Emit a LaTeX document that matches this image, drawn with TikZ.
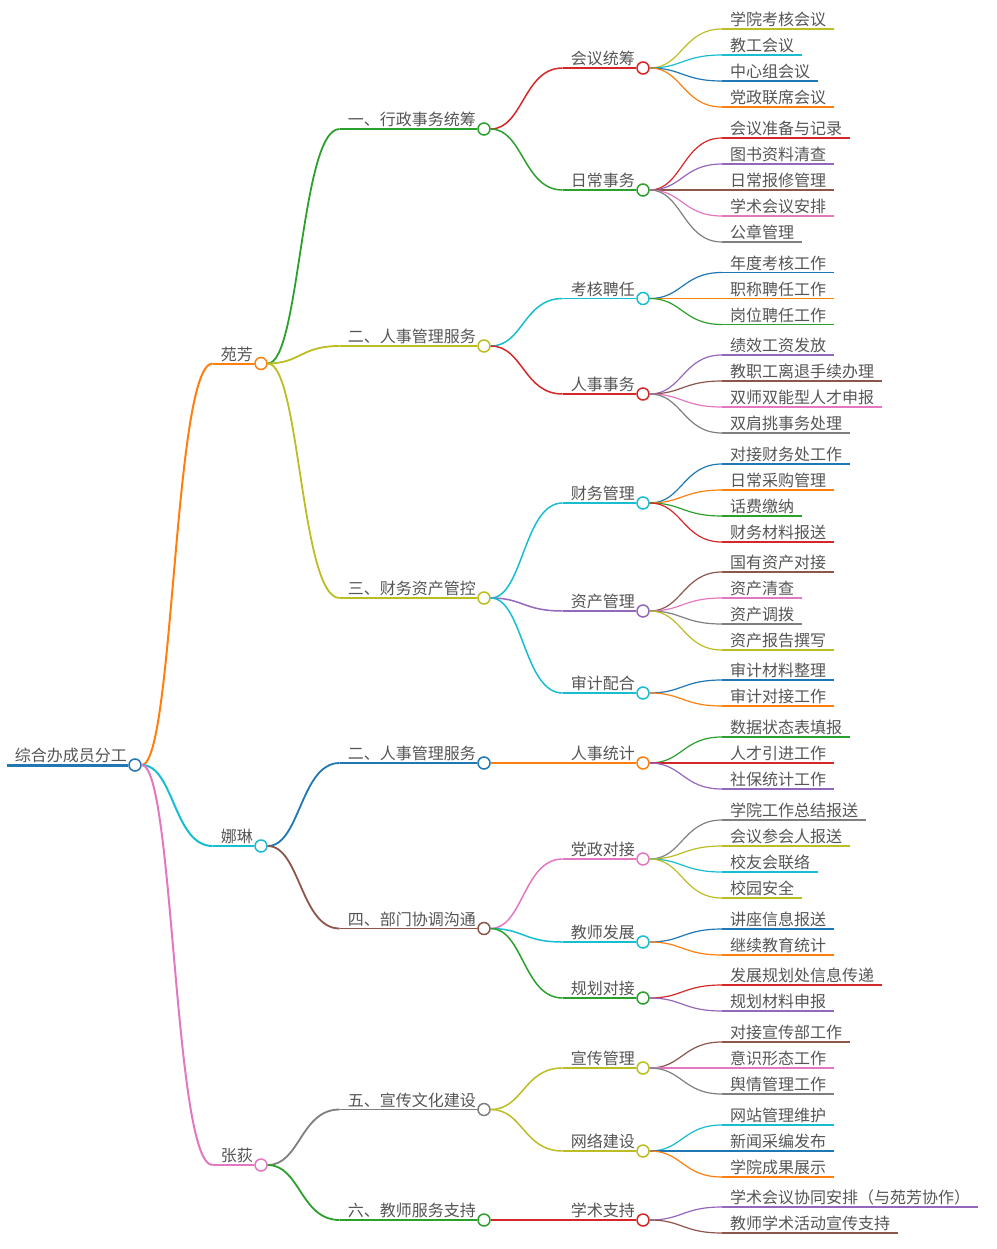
\documentclass[tikz,border=0pt]{standalone}
\usepackage{fontspec}
\setmainfont{Noto Sans CJK SC}
\usepackage{xcolor}
\usepackage{tikz}

\definecolor{cblue}{HTML}{1F77B4}
\definecolor{corange}{HTML}{FF7F0E}
\definecolor{cgreen}{HTML}{2CA02C}
\definecolor{cred}{HTML}{D62728}
\definecolor{cpurple}{HTML}{9467BD}
\definecolor{cbrown}{HTML}{8C564B}
\definecolor{cpink}{HTML}{E377C2}
\definecolor{cgray}{HTML}{7F7F7F}
\definecolor{colive}{HTML}{BCBD22}
\definecolor{ccyan}{HTML}{17BECF}
\definecolor{textgray}{HTML}{555555}

\begin{document}
\begin{tikzpicture}[
    x = 1pt, y = -1pt, % one unit per pixel, y downwards
    lbl/.style = {inner xsep=8pt, inner ysep=1pt, text height=14pt, text depth=2pt,
      text=textgray, font=\fontsize{16}{18}\selectfont},
    dot/.style = {circle, draw=#1, fill=white, line width=1.5pt,
      minimum size=12pt, inner sep=0pt},
    link/.style = {to path={.. controls +(39,0) and +(-39,0) .. (\tikztotarget)}}
  ]
  \useasboundingbox (0,0) rectangle (996,1249);

  % root
  \node[dot=cblue] (zh) at (135,765) {};
  \node[lbl, anchor=south east] (zh-t) at (zh.center) {综合办成员分工};
  \draw[cblue, line width=3pt] (zh-t.south west) -- (zh.west);

  % members
  \foreach \nm/\y/\clr/\txt in {yf/363.5/corange/苑芳, nl/846/ccyan/娜琳, zd/1165/cpink/张荻} {
    \node[dot=\clr] (\nm) at (261,\y) {};
    \node[lbl, anchor=south east] (\nm-t) at (\nm.center) {\txt};
    \draw[\clr, line width=2pt] (\nm-t.south west) -- (\nm.west);
    \path[line width=2pt] (zh) edge[link, \clr] (\nm-t.south west);
  }

  % duties
  \foreach \nm/\pa/\y/\clr/\txt in {
      yf1/yf/129/cgreen/一、行政事务统筹, yf2/yf/346/colive/二、人事管理服务,
      yf3/yf/598/colive/三、财务资产管控, nl2/nl/763/cblue/二、人事管理服务,
      nl4/nl/928.5/cbrown/四、部门协调沟通, zd5/zd/1109.5/cgray/五、宣传文化建设,
      zd6/zd/1220/cgreen/六、教师服务支持} {
    \node[dot=\clr] (\nm) at (484,\y) {};
    \node[lbl, anchor=south east] (\nm-t) at (\nm.center) {\txt};
    \draw[\clr, line width=1.8pt] (\nm-t.south west) -- (\nm.west);
    \path[line width=1.8pt] (\pa) edge[link, \clr] (\nm-t.south west);
  }

  % task groups
  \foreach \nm/\pa/\y/\clr/\txt in {
      hy/yf1/68/cred/会议统筹, rc/yf1/190/cgreen/日常事务,
      kh/yf2/298.5/ccyan/考核聘任, rs/yf2/394/cred/人事事务,
      cw/yf3/503/ccyan/财务管理, zc/yf3/611/cpurple/资产管理, sj/yf3/693/ccyan/审计配合,
      tj/nl2/763/corange/人事统计,
      dz/nl4/859/cpink/党政对接, js/nl4/942/ccyan/教师发展, gh/nl4/998/cgreen/规划对接,
      xc/zd5/1068/colive/宣传管理, wl/zd5/1151/colive/网络建设,
      xs/zd6/1220/cred/学术支持} {
    \node[dot=\clr] (\nm) at (643,\y) {};
    \node[lbl, anchor=south east] (\nm-t) at (\nm.center) {\txt};
    \draw[\clr, line width=1.5pt] (\nm-t.south west) -- (\nm.west);
    \path[line width=1.5pt] (\pa) edge[link, \clr] (\nm-t.south west);
  }

  % single tasks
  \foreach \pa/\y/\clr/\txt [count=\i] in {
      hy/29/colive/学院考核会议, hy/55/ccyan/教工会议, hy/81/cblue/中心组会议,
      hy/107/corange/党政联席会议,
      rc/138/cred/会议准备与记录, rc/164/cpurple/图书资料清查, rc/190/cbrown/日常报修管理,
      rc/216/cpink/学术会议安排, rc/242/cgray/公章管理,
      kh/272.5/cblue/年度考核工作, kh/298.5/corange/职称聘任工作, kh/324.5/cgreen/岗位聘任工作,
      rs/355/cpurple/绩效工资发放, rs/381/cbrown/教职工离退手续办理,
      rs/407/cpink/双师双能型人才申报, rs/433/cgray/双肩挑事务处理,
      cw/464/cblue/对接财务处工作, cw/490/corange/日常采购管理, cw/516/cgreen/话费缴纳,
      cw/542/cred/财务材料报送,
      zc/572/cbrown/国有资产对接, zc/598/cpink/资产清查, zc/624/cgray/资产调拨,
      zc/650/colive/资产报告撰写,
      sj/680/cblue/审计材料整理, sj/706/corange/审计对接工作,
      tj/737/cgreen/数据状态表填报, tj/763/cred/人才引进工作, tj/789/cpurple/社保统计工作,
      dz/820/cgray/学院工作总结报送, dz/846/colive/会议参会人报送, dz/872/ccyan/校友会联络,
      dz/898/colive/校园安全,
      js/929/cblue/讲座信息报送, js/955/corange/继续教育统计,
      gh/985/cred/发展规划处信息传递, gh/1011/cpurple/规划材料申报,
      xc/1042/cbrown/对接宣传部工作, xc/1068/cpink/意识形态工作, xc/1094/cgray/舆情管理工作,
      wl/1125/ccyan/网站管理维护, wl/1151/cblue/新闻采编发布, wl/1177/corange/学院成果展示,
      xs/1207/cpurple/学术会议协同安排（与苑芳协作）, xs/1233/cbrown/教师学术活动宣传支持} {
    \node[lbl, anchor=south west] (leaf\i) at (722,\y) {\txt};
    \draw[\clr, line width=1.2pt] (leaf\i.south west) -- (leaf\i.south east);
    \path[line width=1.2pt] (\pa) edge[link, \clr] (leaf\i.south west);
  }
\end{tikzpicture}
\end{document}
